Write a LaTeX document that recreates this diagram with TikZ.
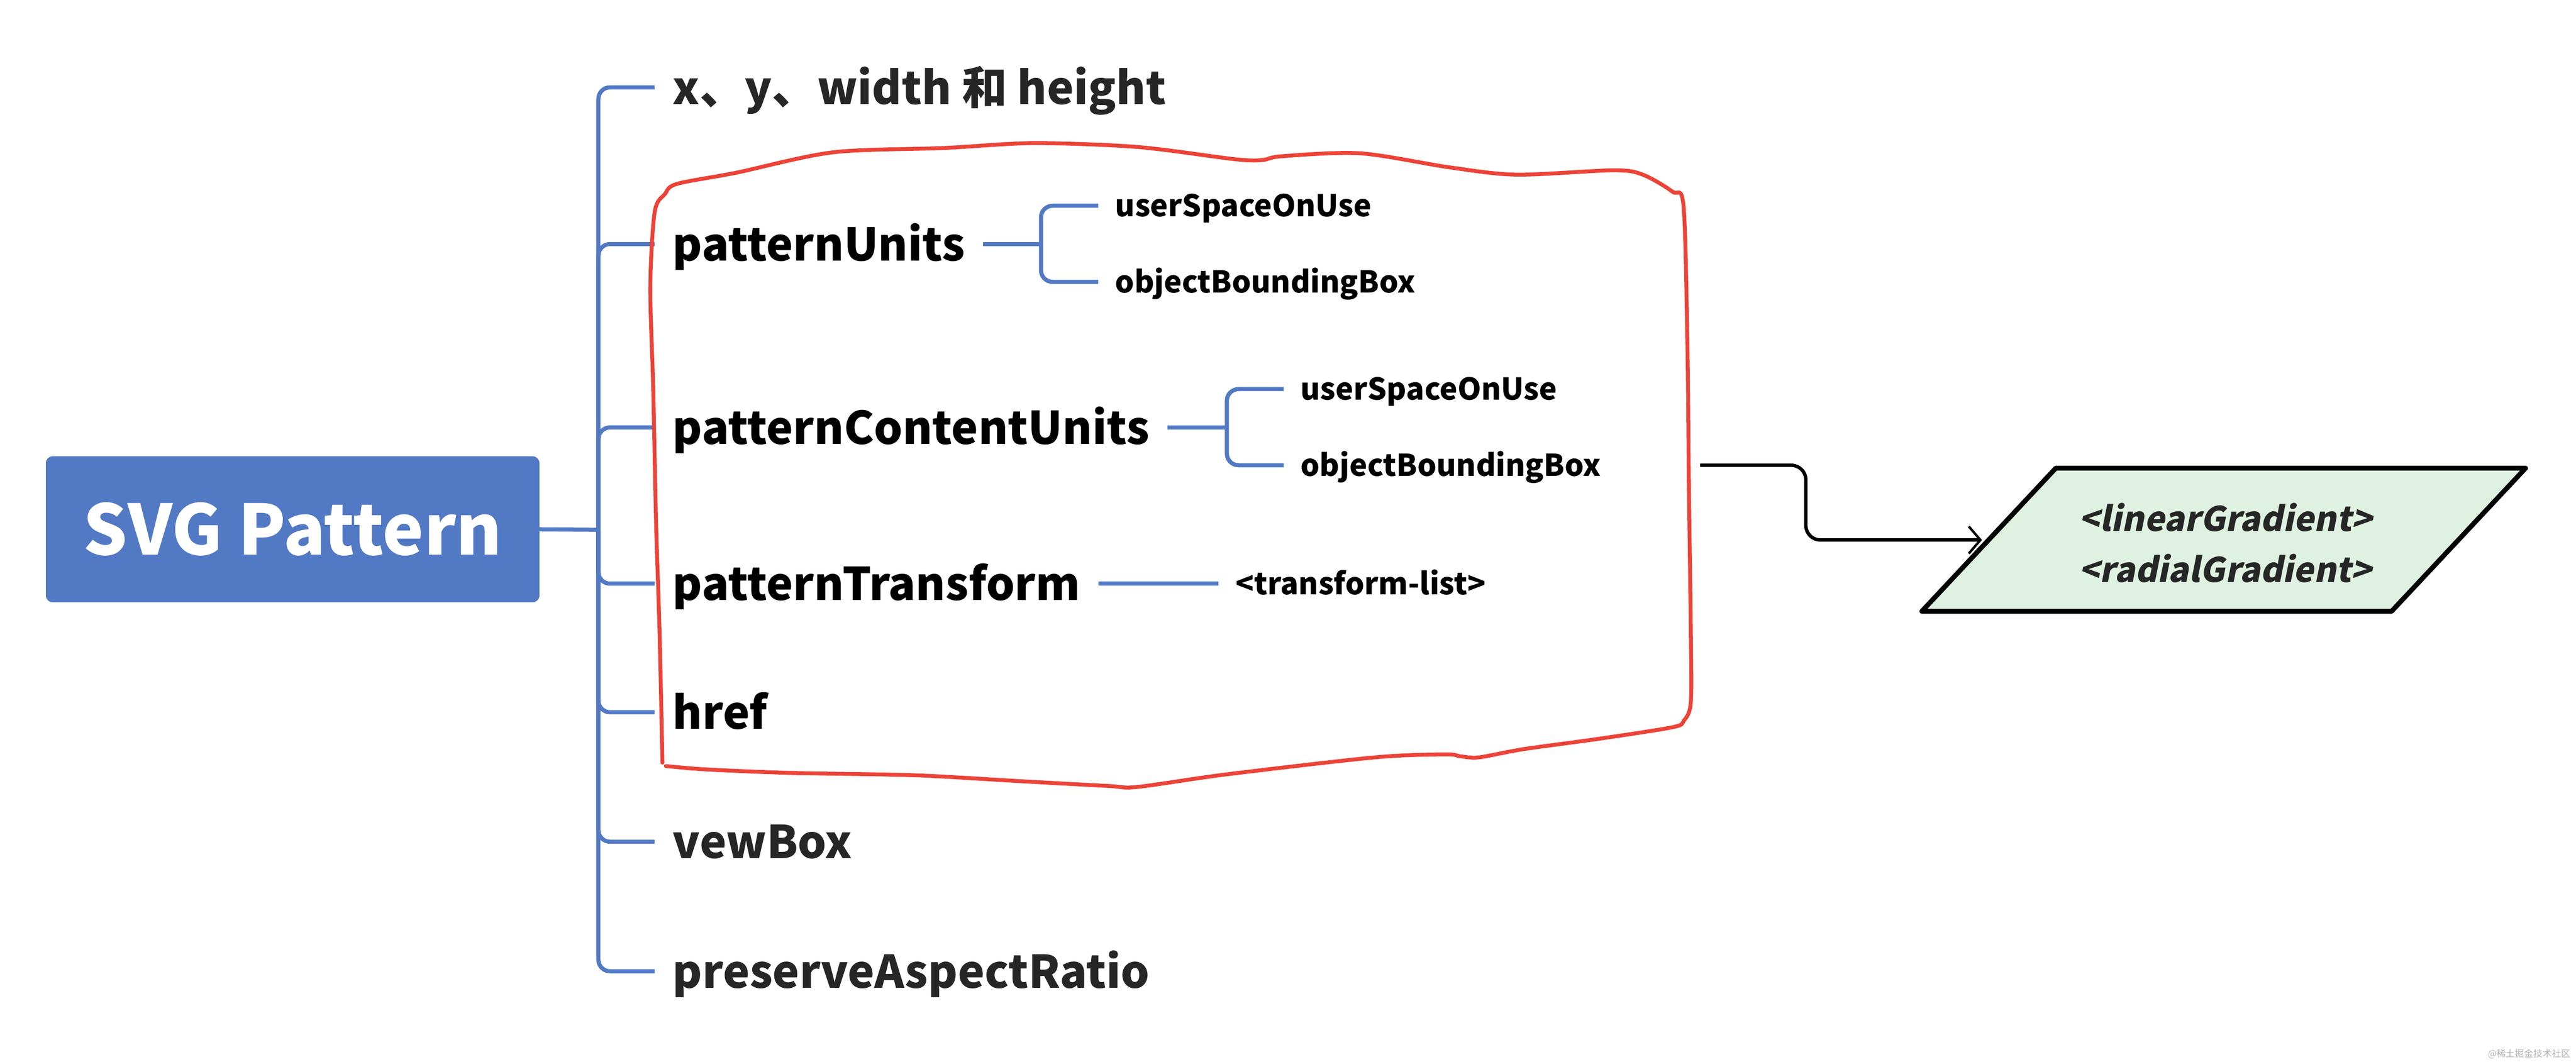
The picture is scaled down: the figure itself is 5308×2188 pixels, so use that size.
\documentclass[tikz,border=0pt]{standalone}
\usepackage{fontspec}
\setmainfont{Noto Sans CJK SC}
\newfontfamily\slantfont{Noto Sans CJK SC}[FakeSlant=0.2]
\usetikzlibrary{positioning,arrows.meta}
\definecolor{xblue}{HTML}{5279C4}
\definecolor{xred}{HTML}{EC4338}
\definecolor{xgreen}{HTML}{DFF2E2}
\definecolor{xtext}{HTML}{262626}

\begin{document}
\begin{tikzpicture}[x=1pt, y=-1pt,
    branch/.style = {draw=xblue, line width=8.5pt, rounded corners=24pt},
    root/.style = {fill=xblue, rounded corners=14pt, minimum width=1017pt, minimum height=301pt,
      text=white, font=\fontsize{143}{143}\selectfont\bfseries},
    topic/.style = {anchor=west, inner xsep=37pt, inner ysep=0pt, text height=69pt, text depth=0pt,
      font=\fontsize{93}{93}\selectfont\bfseries},
    subtopic/.style = {anchor=west, inner xsep=35pt, inner ysep=0pt, text height=45pt, text depth=0pt,
      text=black, font=\fontsize{62}{62}\selectfont\bfseries},
    gradbox/.style = {draw=black, line width=10pt, line join=round, fill=xgreen},
    gradtext/.style = {align=center, text=xtext, font=\fontsize{70}{105}\slantfont\bfseries},
    link/.style = {draw=black, line width=7pt, rounded corners=30pt,
      -{Straight Barb[length=24pt, width=56pt, line width=5pt]}},
    cloud/.style = {draw=xred, line width=8pt, line cap=round}]

  \useasboundingbox (0,0) rectangle (5308,2188);

  % root and first level
  \node[root] (svg) at (603,1091) {SVG Pattern};
  \coordinate (trunk) at (1233,1092);
  \node[topic, text=xtext] (xywh) at (1349,180) {x、y、width 和 height};
  \node[topic, text=black] (pu) at (1349,503) {patternUnits};
  \node[topic, text=black] (pcu) at (1349,881) {patternContentUnits};
  \node[topic, text=black] (pt) at (1349,1203) {patternTransform};
  \node[topic, text=black] (href) at (1349,1468) {href};
  \node[topic, text=xtext] (vb) at (1349,1735) {vewBox};
  \node[topic, text=xtext] (par) at (1349,2002) {preserveAspectRatio};

  \draw[branch] (svg.east) -- (trunk);
  \foreach \n in {xywh,pu,pcu,pt,href,vb,par}
    \draw[branch] (trunk) |- (\n.west);

  % second level
  \coordinate (pufork) at (2145,503);
  \node[subtopic] (pu1) at (2263,424) {userSpaceOnUse};
  \node[subtopic] (pu2) at (2263,581) {objectBoundingBox};
  \draw[branch] (pu) -- (pufork);
  \draw[branch] (pufork) |- (pu1.west);
  \draw[branch] (pufork) |- (pu2.west);

  \coordinate (pcufork) at (2528,881);
  \node[subtopic] (pcu1) at (2645,802) {userSpaceOnUse};
  \node[subtopic] (pcu2) at (2645,959) {objectBoundingBox};
  \draw[branch] (pcu) -- (pcufork);
  \draw[branch] (pcufork) |- (pcu1.west);
  \draw[branch] (pcufork) |- (pcu2.west);

  \node[subtopic] (tl) at (2511,1203) {<transform-list>};
  \draw[branch] (pt) -- (tl);

  % hand drawn outline
  \draw[cloud] plot[smooth, tension=0.5] coordinates {
    (1365,1572) (1359,1300) (1352,1082) (1346,802) (1340,591) (1349,437) (1370,400) (1395,379)
    (1517,356) (1716,314) (1946,305) (2130,295) (2344,303) (2543,328) (2600,330) (2642,322)
    (2803,316) (2987,345) (3125,360) (3324,351) (3385,360) (3446,395) (3469,425)
    (3477,712) (3480,1000) (3484,1300) (3484,1447) (3470,1485) (3446,1499)
    (3293,1523) (3140,1544) (3048,1561) (3010,1559) (2979,1555) (2834,1561) (2528,1596)
    (2344,1622) (2283,1620) (2099,1610) (1885,1598) (1625,1593) (1456,1586) (1372,1579)};

  % gradients
  \coordinate (gbl) at (3960,1260);
  \coordinate (gtl) at (4236,965);
  \coordinate (gtr) at (5204,965);
  \coordinate (gbr) at (4928,1260);
  \draw[gradbox] (gbl) -- (gtl) -- (gtr) -- (gbr) -- cycle;
  \node[gradtext] (grad) at (4586,1119) {<linearGradient>\\<radialGradient>};
  \coordinate (gin) at (4084,1113);
  \coordinate (out) at (3503,959);
  \draw[link] (out) -- ++(218,0) |- (gin);

  \node[text=black!30, font=\fontsize{19}{19}\selectfont, anchor=east] (mark) at (5300,2172) {@稀土掘金技术社区};
\end{tikzpicture}
\end{document}
